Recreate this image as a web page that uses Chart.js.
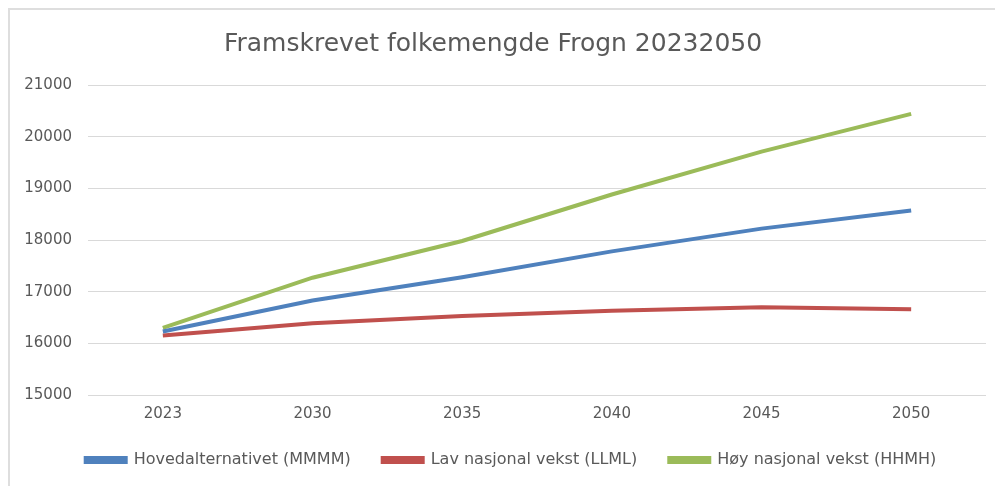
<!DOCTYPE html>
<html>
<head>
<meta charset="utf-8">
<script src="https://cdn.jsdelivr.net/npm/chart.js@4.4.0/dist/chart.umd.min.js"></script>
<style>
  html, body { margin: 0; padding: 0; background: #ffffff; overflow: hidden; }
  canvas { display: block; }
</style>
</head>
<body>
<canvas id="c" width="995" height="486"></canvas>
<script>
const titleText = "Framskrevet folkemengde Frogn 20232050";
const categories = ["2023", "2030", "2035", "2040", "2045", "2050"];
const hovedalternativet = [16230, 16830, 17280, 17780, 18220, 18570];
const lavVekst = [16150, 16390, 16530, 16630, 16700, 16660];
const hoyVekst = [16300, 17270, 17980, 18880, 19710, 20440];
const seriesNames = ["Hovedalternativet (MMMM)", "Lav nasjonal vekst (LLML)", "Høy nasjonal vekst (HHMH)"];
const yMin = 15000, yMax = 21000, yStep = 1000;

const FONT = "'DejaVu Sans', 'Liberation Sans', sans-serif";
const colors = ["#4F81BD", "#C0504D", "#9BBB59"];
const seriesData = [hovedalternativet, lavVekst, hoyVekst];

const framePlugin = {
  id: "frame",
  afterLayout(chart) {
    // centre the legend row where the reference has it
    if (chart.legend) { chart.legend.left += 18; chart.legend.right += 18; }
  },
  beforeDraw(chart) {
    const ctx = chart.ctx;
    ctx.save();
    ctx.strokeStyle = "#dedede";
    ctx.lineWidth = 2;
    ctx.beginPath();
    ctx.moveTo(9, chart.height);
    ctx.lineTo(9, 9);
    ctx.lineTo(chart.width, 9);
    ctx.stroke();
    ctx.restore();
  }
};

new Chart(document.getElementById("c"), {
  type: "line",
  data: {
    labels: categories,
    datasets: seriesNames.map((n, i) => ({
      label: n,
      data: seriesData[i],
      borderColor: colors[i],
      backgroundColor: colors[i],
      borderWidth: 4,
      pointRadius: 0,
      tension: 0,
      fill: false
    }))
  },
  plugins: [framePlugin],
  options: {
    responsive: false,
    animation: false,
    layout: { padding: { left: 0, right: 9, top: 0, bottom: 8 } },
    plugins: {
      title: {
        display: true,
        text: titleText,
        color: "#595959",
        font: { family: FONT, size: 25, weight: "normal" },
        padding: { top: 29, bottom: 26 }
      },
      legend: {
        position: "bottom",
        labels: {
          color: "#595959",
          font: { family: FONT, size: 16 },
          boxWidth: 40,
          boxHeight: 4,
          padding: 32
        }
      },
      tooltip: { enabled: false }
    },
    scales: {
      x: {
        offset: true,
        grid: { display: false, drawTicks: false },
        border: { display: false },
        ticks: { color: "#595959", font: { family: FONT, size: 15 }, padding: 10, maxRotation: 0 },
        afterFit: (s) => { s.height = 25; }
      },
      y: {
        min: yMin, max: yMax,
        grid: { color: "#d9d9d9", lineWidth: 1, drawTicks: false },
        border: { display: false },
        ticks: { stepSize: yStep, color: "#595959", font: { family: FONT, size: 15 }, padding: 16,
                 callback: (v) => String(v) },
        afterFit: (s) => { s.width = 88; }
      }
    }
  }
});
</script>
</body>
</html>
